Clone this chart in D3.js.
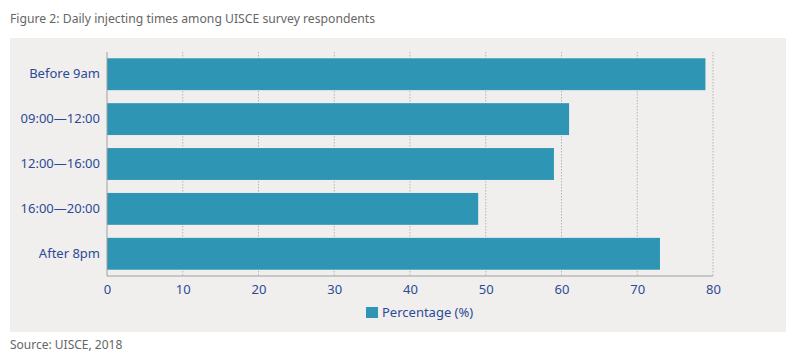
<!DOCTYPE html>
<html>
<head>
<meta charset="utf-8">
<script src="https://cdn.jsdelivr.net/npm/d3@7"></script>
<style>
  body { margin: 0; background: #fff; }
  svg text { font-family: "Noto Sans", "Open Sans", sans-serif; }
</style>
</head>
<body>
<div id="chart"></div>
<script>
// chart data
var categories = ["Before 9am", "09:00\u201412:00", "12:00\u201416:00", "16:00\u201420:00", "After 8pm"];
var percentages = [79, 61, 59, 49, 73];
var xTicks = [0, 10, 20, 30, 40, 50, 60, 70, 80];
var seriesName = "Percentage (%)";

var width = 800, height = 360;
var barColor = "#2e96b4";
var labelColor = "#2d4a96";

var svg = d3.select("#chart").append("svg")
    .attr("width", width)
    .attr("height", height);

// title
svg.append("text")
    .attr("x", 10).attr("y", 23)
    .text("Figure 2: Daily injecting times among UISCE survey respondents")
    .style("font-size", "12.2px")
    .style("fill", "#666");

// grey panel
svg.append("rect")
    .attr("x", 10).attr("y", 38)
    .attr("width", 776).attr("height", 294)
    .style("fill", "#f0efee");

var plotLeft = 107, plotRight = 713, plotTop = 52, plotBottom = 276;

var x = d3.scaleLinear().domain([0, 80]).range([plotLeft, plotRight]);
var y = d3.scaleBand().domain(categories).range([plotTop, plotBottom]).paddingInner(0.29).paddingOuter(0.14);

// dotted gridlines
svg.selectAll("line.grid")
    .data(xTicks.slice(1))
    .enter()
    .append("line")
    .attr("class", "grid")
    .attr("x1", function(d) { return x(d); })
    .attr("x2", function(d) { return x(d); })
    .attr("y1", plotTop)
    .attr("y2", plotBottom)
    .style("stroke", "#b4b4b4")
    .style("stroke-width", 1)
    .style("stroke-dasharray", "1.5,1.5");

// bars
svg.selectAll("rect.bar")
    .data(categories)
    .enter()
    .append("rect")
    .attr("class", "bar")
    .attr("x", x(0))
    .attr("y", function(d) { return y(d); })
    .attr("width", function(d, i) { return x(percentages[i]) - x(0); })
    .attr("height", y.bandwidth())
    .style("fill", barColor);

// axis lines
svg.append("line")
    .attr("x1", x(0)).attr("x2", x(0))
    .attr("y1", plotTop).attr("y2", plotBottom)
    .style("stroke", "#a0a0a0");
svg.append("line")
    .attr("x1", x(0)).attr("x2", x(80))
    .attr("y1", plotBottom).attr("y2", plotBottom)
    .style("stroke", "#a0a0a0");

// x axis labels
var xAxis = svg.append("g")
    .attr("transform", "translate(0," + plotBottom + ")")
    .call(d3.axisBottom(x).tickValues(xTicks).tickSize(0).tickPadding(9));
xAxis.select(".domain").remove();
xAxis.selectAll("text")
    .style("font-size", "13px")
    .style("fill", labelColor);

// y axis labels
var yAxis = svg.append("g")
    .attr("transform", "translate(" + plotLeft + ",0)")
    .call(d3.axisLeft(y).tickSize(0).tickPadding(7));
yAxis.select(".domain").remove();
yAxis.selectAll("text")
    .style("font-size", "13px")
    .style("fill", labelColor);

// legend
svg.append("rect")
    .attr("x", 366).attr("y", 307)
    .attr("width", 12).attr("height", 11)
    .style("fill", barColor);
svg.append("text")
    .attr("x", 382).attr("y", 317)
    .text(seriesName)
    .style("font-size", "13px")
    .style("fill", labelColor);

// source
svg.append("text")
    .attr("x", 10).attr("y", 349)
    .text("Source: UISCE, 2018")
    .style("font-size", "12px")
    .style("fill", "#666");
</script>
</body>
</html>
